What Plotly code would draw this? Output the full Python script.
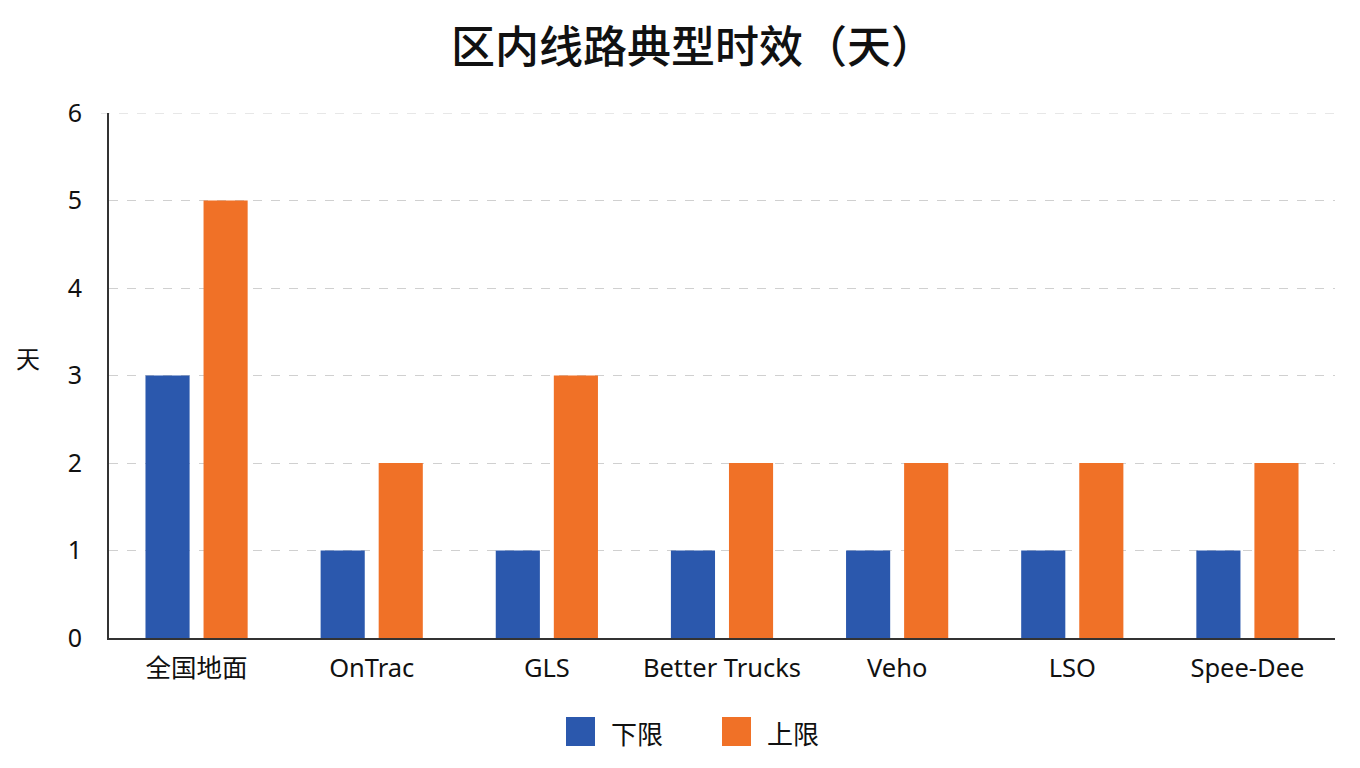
import plotly.graph_objects as go

categories = ["全国地面", "OnTrac", "GLS", "Better Trucks", "Veho", "LSO", "Spee-Dee"]
lower = [3, 1, 1, 1, 1, 1, 1]
upper = [5, 2, 3, 2, 2, 2, 2]
series_names = ["下限", "上限"]
colors = ["#2b58ad", "#f07127"]
y_ticks = [0, 1, 2, 3, 4, 5, 6]
title_text = "区内线路典型时效（天）"
y_title = "天"

FONT = "Noto Sans, Noto Sans CJK SC, sans-serif"
CJK = "Noto Sans CJK SC, Noto Sans, sans-serif"

PW, PH = 1226, 525  # plot area size in px

fig = go.Figure()
fig.add_trace(go.Bar(x=categories, y=lower, name=series_names[0], marker=dict(color=colors[0], line=dict(width=0)), showlegend=False))
fig.add_trace(go.Bar(x=categories, y=upper, name=series_names[1], marker=dict(color=colors[1], line=dict(width=0)), showlegend=False))

# custom legend (large swatches)
legend_items = [((566 - 109) / PW, series_names[0], colors[0]), ((722 - 109) / PW, series_names[1], colors[1])]
shapes = []
annotations = []
for xp, name, col in legend_items:
    y_top = -(717 - 638) / PH
    shapes.append(dict(type="rect", xref="paper", yref="paper",
                       x0=xp, x1=xp + 29 / PW, y0=y_top, y1=y_top - 29 / PH,
                       fillcolor=col, line=dict(width=0)))
    annotations.append(dict(text=name, xref="paper", yref="paper", x=xp + 43 / PW, y=y_top - 15 / PH,
                            xanchor="left", yanchor="middle", showarrow=False,
                            font=dict(family=CJK, size=26, color="#111")))

# top gridline (plotly omits the gridline at the range edge)
shapes.append(dict(type="line", xref="paper", yref="y", x0=-8 / PW, x1=1, y0=y_ticks[-1], y1=y_ticks[-1],
                   line=dict(color="#d0d0d0", width=1, dash="dash"), layer="below"))

annotations.append(dict(text=y_title, xref="paper", yref="paper", x=-(109 - 28) / PW, y=(638 - 357) / PH,
                        xanchor="center", yanchor="middle", showarrow=False,
                        font=dict(family=CJK, size=24, color="#111")))

fig.update_layout(
    width=1360, height=768,
    margin=dict(l=109, r=25, t=113, b=130),
    paper_bgcolor="white", plot_bgcolor="white",
    title=dict(text=title_text, x=0.5 + 13 / 1360, xanchor="center", y=1 - 48 / 768, yanchor="middle",
               font=dict(family=CJK, size=44, color="#111", weight=500)),
    barmode="group", bargap=0.337, bargroupgap=0.24,
    font=dict(family=FONT, size=24, color="#111"),
    shapes=shapes, annotations=annotations,
    showlegend=False,
)
fig.update_xaxes(showline=True, linecolor="#333", linewidth=2, ticks="", showgrid=False,
                 tickfont=dict(family=FONT, size=25.5, color="#111"), ticklabelstandoff=6)
fig.update_yaxes(range=[0, 6], tickvals=y_ticks, showline=True, linecolor="#333", linewidth=2,
                 showgrid=True, gridcolor="#d0d0d0", griddash="dash", gridwidth=1,
                 zeroline=False, ticks="", ticklabelstandoff=20,
                 tickfont=dict(family=FONT, size=25, color="#111"))

fig.write_html("out.html", config={"displayModeBar": False},
               post_script="document.body.style.margin='0';document.body.style.overflow='hidden';")
